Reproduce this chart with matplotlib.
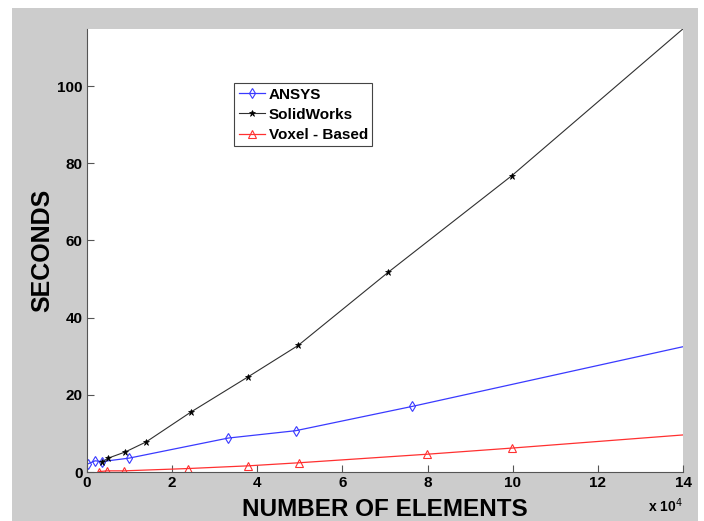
import matplotlib
matplotlib.use('Agg')
import matplotlib.pyplot as plt

plt.rcParams['font.family'] = ['Liberation Sans', 'DejaVu Sans']

# element counts (x 10^4) and solve times (s); last points lie past the axis edge
ansys_x = [0.02, 0.19, 0.35, 0.99, 3.32, 4.9, 7.64, 15.0]
ansys_y = [2.1, 2.9, 2.7, 3.6, 8.8, 10.7, 17.0, 34.9]

solid_x = [0.35, 0.5, 0.9, 1.39, 2.45, 3.79, 4.96, 7.08, 9.98, 15.0]
solid_y = [2.6, 3.6, 5.2, 7.8, 15.6, 24.7, 32.8, 51.8, 76.8, 124.3]

voxel_x = [0.28, 0.47, 0.87, 2.38, 3.79, 4.99, 7.98, 9.98, 15.0]
voxel_y = [0.1, 0.3, 0.3, 0.9, 1.6, 2.4, 4.6, 6.2, 10.45]

xticks = [0, 2, 4, 6, 8, 10, 12, 14]
yticks = [0, 20, 40, 60, 80, 100]

fig = plt.figure(figsize=(7.04, 5.21), dpi=100, facecolor='white')

# grey figure panel (MATLAB style), sits behind the plot axes
bg = fig.add_axes([12 / 704, 0, (698 - 12) / 704, 1 - 8 / 521], zorder=-10)
bg.set_facecolor('#cccccc')
bg.set_xticks([])
bg.set_yticks([])
for s in bg.spines.values():
    s.set_visible(False)

ax = fig.add_axes([87 / 704, 49 / 521, 596 / 704, 443 / 521])
ax.set_facecolor('white')

e4 = 1e4
ax.plot([v * e4 for v in ansys_x], ansys_y, color='#3a3aff', lw=0.9,
        marker='d', ms=5, mfc='none', mec='#3a3aff', mew=0.8, label='ANSYS')
ax.plot([v * e4 for v in solid_x], solid_y, color='#303030', lw=0.8,
        marker='*', ms=5, mfc='k', mec='k', mew=0.5, label='SolidWorks')
ax.plot([v * e4 for v in voxel_x], voxel_y, color='#ff3030', lw=0.9,
        marker='^', ms=5.5, mfc='none', mec='#ff3030', mew=0.8, label='Voxel - Based')

ax.set_xlim(0, 14 * e4)
ax.set_ylim(0, 114.8)
ax.set_xticks([t * e4 for t in xticks])
ax.set_xticklabels([str(t) for t in xticks])
ax.set_yticks(yticks)
ax.tick_params(direction='in', length=5, width=0.8, colors='#555555',
               labelcolor='black', labelsize=11, pad=3)
for lab in ax.get_xticklabels() + ax.get_yticklabels():
    lab.set_fontweight('bold')

ax.spines['top'].set_visible(False)
ax.spines['right'].set_visible(False)
ax.spines['left'].set_color('#555555')
ax.spines['bottom'].set_color('#555555')

ax.set_xlabel('NUMBER OF ELEMENTS', fontsize=17.5, fontweight='bold', labelpad=6)
ax.set_ylabel('SECONDS', fontsize=18, fontweight='bold', labelpad=2)

ax.text(1.0, -0.075, r'x 10$^{4}$', transform=ax.transAxes, ha='right',
        va='center', fontsize=10, fontweight='bold')

leg = ax.legend(loc='upper left', bbox_to_anchor=(0.247, 0.878), fancybox=False,
                framealpha=1, edgecolor='#444444', handlelength=1.7,
                borderpad=0.3, labelspacing=0.4, handletextpad=0.25,
                borderaxespad=0, prop={'weight': 'bold', 'size': 11})
leg.get_frame().set_linewidth(0.8)

fig.savefig('out.png', dpi=100, facecolor=fig.get_facecolor())
